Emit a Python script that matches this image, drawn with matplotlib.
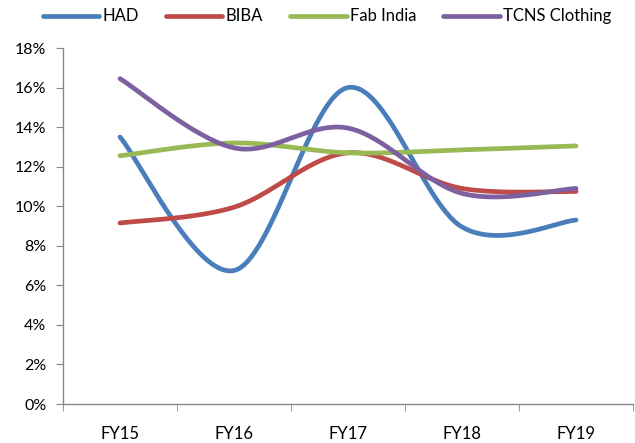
import numpy as np
import matplotlib
matplotlib.use("Agg")
import matplotlib.pyplot as plt

categories = ["FY15", "FY16", "FY17", "FY18", "FY19"]
had = [13.5, 6.75, 16.0, 8.95, 9.3]
biba = [9.15, 9.95, 12.7, 10.9, 10.75]
fab_india = [12.55, 13.2, 12.7, 12.85, 13.05]
tcns = [16.45, 12.95, 13.95, 10.65, 10.9]

series = [
    ("HAD", had, "#4A7EBB"),
    ("BIBA", biba, "#BE4B48"),
    ("Fab India", fab_india, "#98B954"),
    ("TCNS Clothing", tcns, "#7D60A0"),
]

plt.rcParams["font.family"] = ["Lato", "DejaVu Sans"]


def smooth(xs, ys, steps=60):
    """Bezier smoothing through every point (Catmull-Rom style)."""
    pts = np.column_stack([xs, ys]).astype(float)
    n = len(pts)
    out = []
    for i in range(n - 1):
        p0 = pts[max(i - 1, 0)]
        p1 = pts[i]
        p2 = pts[i + 1]
        p3 = pts[min(i + 2, n - 1)]
        c1 = p1 + (p2 - p0) / 6.0
        c2 = p2 - (p3 - p1) / 6.0
        t = np.linspace(0, 1, steps)[:, None]
        seg = ((1 - t) ** 3) * p1 + 3 * ((1 - t) ** 2) * t * c1 \
            + 3 * (1 - t) * t ** 2 * c2 + t ** 3 * p2
        out.append(seg if i == 0 else seg[1:])
    arr = np.vstack(out)
    return arr[:, 0], arr[:, 1]


fig = plt.figure(figsize=(6.35, 4.43), dpi=100)
ax = fig.add_axes([63 / 635, 39 / 443, 570 / 635, 356 / 443])

x = np.arange(len(categories))
for name, vals, color in series:
    sx, sy = smooth(x, vals)
    ax.plot(sx, sy, color=color, lw=3.4, solid_capstyle="round",
            solid_joinstyle="round", label=name)

ax.set_xlim(-0.5, len(categories) - 0.5)
ax.set_ylim(0, 18)
ax.set_yticks(np.arange(0, 19, 2))
ax.set_yticklabels([f"{v}%" for v in range(0, 19, 2)])
ax.set_xticks(x)
ax.set_xticklabels(categories)
ax.set_xticks(np.arange(-0.5, len(categories), 1.0), minor=True)

axis_color = "#868686"
for side in ["top", "right"]:
    ax.spines[side].set_visible(False)
for side in ["left", "bottom"]:
    ax.spines[side].set_color(axis_color)
    ax.spines[side].set_linewidth(1.0)

ax.tick_params(axis="y", direction="out", length=5, color=axis_color,
               labelsize=11.5, pad=7, labelcolor="black")
ax.tick_params(axis="x", which="major", length=0, labelsize=12, pad=16,
               labelcolor="black")
ax.tick_params(axis="x", which="minor", direction="out", length=5,
               color=axis_color)

leg = fig.legend(loc="center", bbox_to_anchor=(0.515, 0.963), ncol=4,
                 frameon=False, fontsize=12, handlelength=3.4,
                 handletextpad=0.2, columnspacing=1.6)
for line in leg.get_lines():
    line.set_linewidth(3.4)
    line.set_solid_capstyle("round")

fig.savefig("out.png", dpi=100)
